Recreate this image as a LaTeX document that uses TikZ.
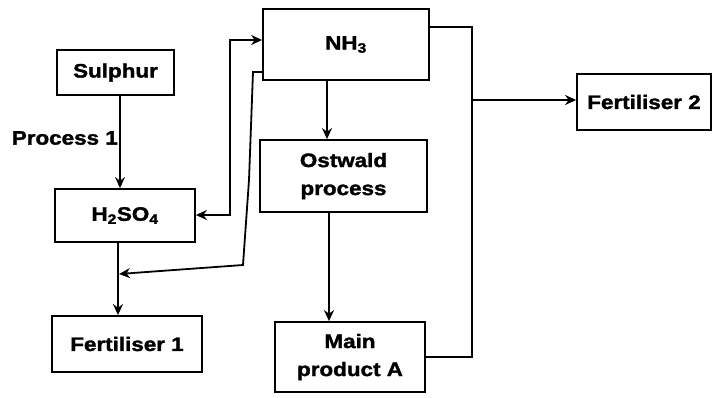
\documentclass[tikz,border=0pt]{standalone}
\usepackage{fontspec}
\setmainfont{Liberation Sans}[FakeStretch=1.15,BoldFeatures={FakeBold=1.6}]
\usetikzlibrary{arrows.meta}
\begin{document}
\begin{tikzpicture}[x=1pt,y=-1pt,
  box/.style={draw, line width=1.8pt, inner sep=0pt, align=center,
    font=\fontsize{19.5}{28}\selectfont\bfseries},
  conn/.style={line width=1.8pt, -{Stealth[length=11pt,width=10pt]}},
  plain/.style={line width=1.8pt},
  lbl/.style={font=\fontsize{19.5}{23}\selectfont\bfseries, inner sep=0pt}]
\useasboundingbox (0,0) rectangle (714,397);
\node[box, minimum width=117pt, minimum height=45pt] (sul) at (115.5,72.5) {Sulphur};
\node[box, minimum width=140pt, minimum height=53pt] (h2) at (125,215.5) {H\textsubscript{2}SO\textsubscript{4}};
\node[box, minimum width=150pt, minimum height=56pt] (f1) at (127,344) {Fertiliser 1};
\node[box, minimum width=166pt, minimum height=71pt] (nh) at (346,44.5) {NH\textsubscript{3}};
\node[box, minimum width=167pt, minimum height=72pt] (ost) at (343.5,176) {Ostwald\\process};
\node[box, minimum width=150pt, minimum height=70pt] (main) at (350,357) {Main\\product A};
\node[box, minimum width=134pt, minimum height=56pt] (f2) at (644,102) {Fertiliser 2};
\node[lbl, anchor=east] (p1) at (118,138) {Process 1};
% Sulphur -> H2SO4
\draw[conn] (sul.south -| 120,0) -- (h2.north -| 120,0);
% H2SO4 -> Fertiliser 1
\draw[conn] (h2.south -| 118,0) -- (f1.north -| 118,0);
% NH3 -> Ostwald
\draw[conn] (nh.south -| 327,0) -- (ost.north -| 327,0);
% Ostwald -> Main product A
\draw[conn] (ost.south -| 329,0) -- (main.north -| 329,0);
% NH3 <-> H2SO4
\coordinate (a1) at (230,40);
\coordinate (a2) at (230,215);
\draw[line width=1.8pt, {Stealth[length=11pt,width=10pt]}-{Stealth[length=11pt,width=10pt]}]
  (h2.east |- a2) -- (a2) -- (a1) -- (nh.west |- a1);
% NH3 -> junction on H2SO4/Fertiliser 1 line
\coordinate (b1) at (253,72);
\coordinate (b2) at (243,265);
\coordinate (b3) at (119,274);
\draw[conn] (nh.west |- b1) -- (b1) -- (249,180) -- (b2) -- (b3);
% Main product A and NH3 -> Fertiliser 2
\coordinate (c1) at (472,357);
\coordinate (c2) at (472,27);
\coordinate (c3) at (472,100);
\draw[plain] (main.east |- c1) -- (c1) -- (c2) -- (nh.east |- c2);
\draw[conn] (c3) -- (f2.west |- c3);
\end{tikzpicture}
\end{document}
